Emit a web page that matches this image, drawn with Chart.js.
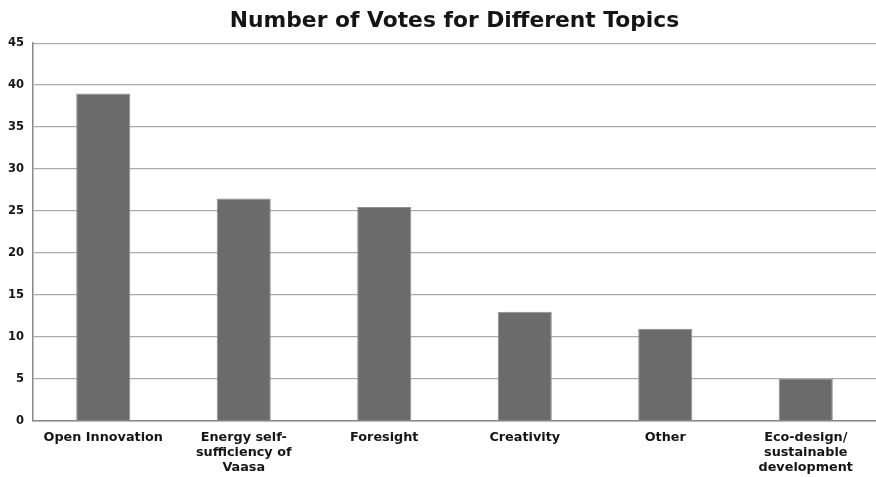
<!DOCTYPE html>
<html>
<head>
<meta charset="utf-8">
<script src="https://cdn.jsdelivr.net/npm/chart.js@4/dist/chart.umd.min.js"></script>
<style>
  html, body { margin: 0; padding: 0; background: #fff; }
  #wrap { width: 876px; height: 477px; }
</style>
</head>
<body>
<div id="wrap"><canvas id="votesChart" width="876" height="477"></canvas></div>
<script>
// topics on the x axis (multi-line where the label wraps)
var topics = [
  "Open Innovation",
  ["Energy self-", "sufficiency of", "Vaasa"],
  "Foresight",
  "Creativity",
  "Other",
  ["Eco-design/", "sustainable", "development"]
];
var votes = [39, 26.5, 25.5, 13, 11, 5];
var yTicks = [0, 5, 10, 15, 20, 25, 30, 35, 40, 45];

var fontFamily = "'DejaVu Sans', Verdana, sans-serif";
var ctx = document.getElementById("votesChart");

var votesChart = new Chart(ctx, {
  type: 'bar',
  data: {
    labels: topics,
    datasets: [{
      label: "Votes",
      data: votes,
      backgroundColor: '#6b6b6b',
      borderColor: '#8e8e8e',
      borderWidth: 1,
      barPercentage: 0.385,
      categoryPercentage: 1.0
    }]
  },
  options: {
    responsive: false,
    animation: false,
    layout: { padding: 0 },
    plugins: {
      legend: { display: false },
      tooltip: { enabled: false },
      title: {
        display: true,
        text: "Number of Votes for Different Topics",
        fullSize: false,
        color: '#151515',
        font: { family: fontFamily, size: 21.8, weight: 'bold' },
        padding: { top: 8, bottom: 9 }
      }
    },
    scales: {
      x: {
        // fixed height for the label band under the bars
        afterFit: function(scale) { scale.height = 56; },
        grid: { display: false, drawTicks: false },
        border: { display: true, color: '#8a8a8a', width: 1.5 },
        ticks: {
          color: '#151515',
          maxRotation: 0,
          autoSkip: false,
          padding: 9,
          font: { family: fontFamily, size: 12.8, weight: 'bold', lineHeight: 1.17 }
        }
      },
      y: {
        min: 0,
        max: 45,
        afterFit: function(scale) { scale.width = 33; },
        afterBuildTicks: function(axis) {
          axis.ticks = yTicks.map(function(v) { return { value: v }; });
        },
        grid: { color: '#ababab', lineWidth: 1.3, drawTicks: false },
        border: { display: true, color: '#888888', width: 1.5 },
        ticks: {
          color: '#151515',
          padding: 9,
          font: { family: fontFamily, size: 11.5, weight: 'bold' }
        }
      }
    }
  }
});
</script>
</body>
</html>
